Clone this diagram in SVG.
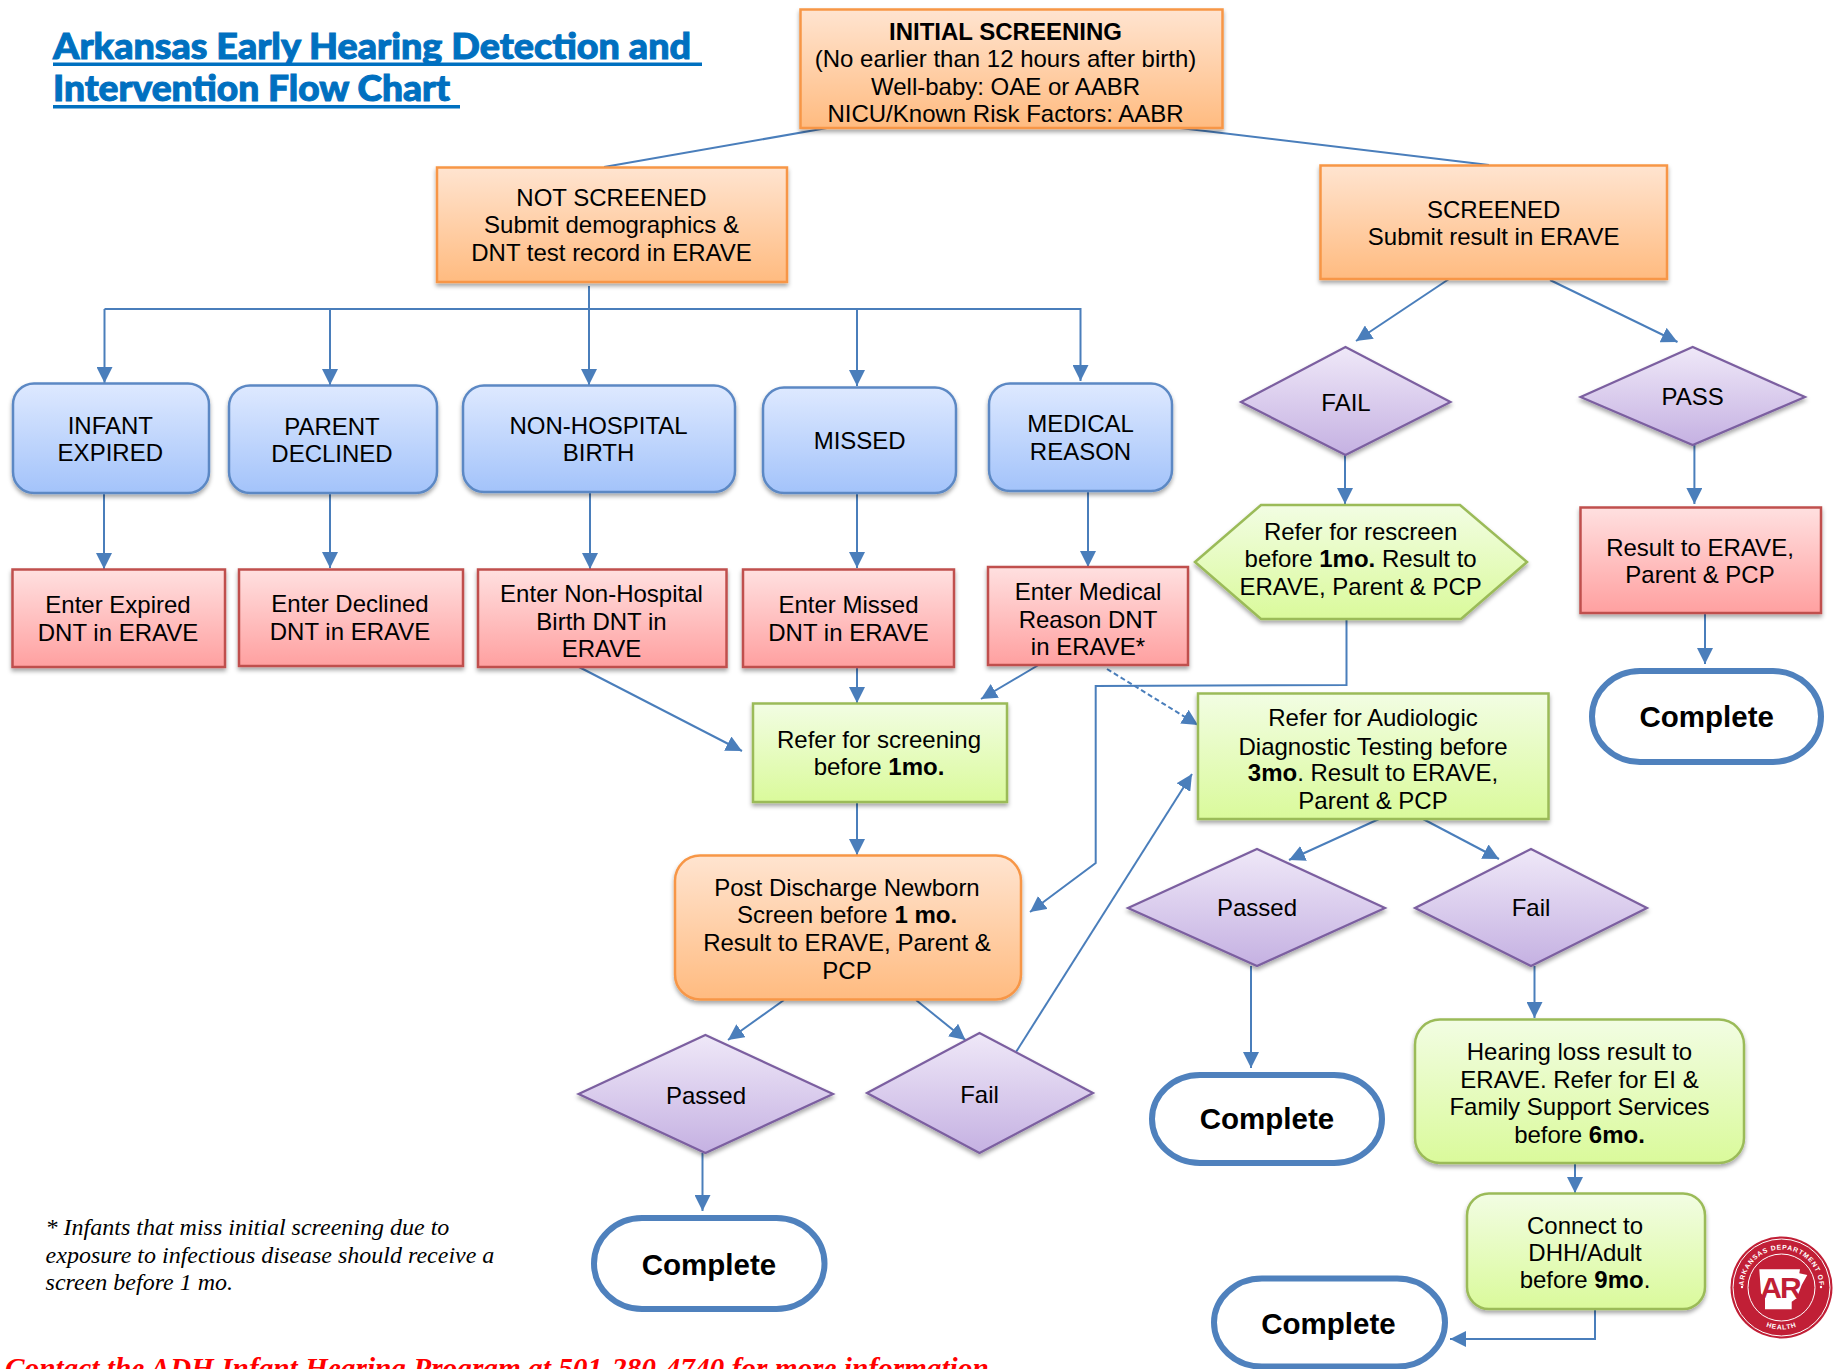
<svg xmlns="http://www.w3.org/2000/svg" xmlns:xlink="http://www.w3.org/1999/xlink" width="1835" height="1369" viewBox="0 0 1835 1369">
<style>
text{font-family:"Liberation Sans",Arial,sans-serif;font-size:24px;fill:#000;text-anchor:middle}
.b{font-weight:700}
.c{font-weight:700;font-size:29.5px}
.ti{font-family:Lato,"Open Sans",sans-serif;font-weight:900;font-size:36px;fill:#0070C0;stroke:#0070C0;stroke-width:1;text-anchor:start}
.fn{font-family:"Liberation Serif",serif;font-style:italic;font-size:24px;text-anchor:start}
.ct{font-family:"Liberation Serif",serif;font-style:italic;font-weight:700;font-size:29.3px;fill:#f00;text-anchor:start}
.cx line,.cx polyline{fill:none;stroke:#4A7EBB;stroke-width:2;marker-end:url(#ah)}
.cx .n{marker-end:none}
.or{fill:url(#gO);stroke:#F79646;stroke-width:2.5;filter:url(#sh)}
.bl{fill:url(#gB);stroke:#5B88C4;stroke-width:2.5;filter:url(#sh)}
.re{fill:url(#gR);stroke:#C0504D;stroke-width:2.5;filter:url(#sh)}
.gr{fill:url(#gG);stroke:#9BBB59;stroke-width:2.5;filter:url(#sh)}
.pu{fill:url(#gP);stroke:#7B5FA0;stroke-width:2.2;filter:url(#sh)}
.co{fill:#fff;stroke:#4F81BD;stroke-width:6}
.lg{font-family:"Liberation Sans",sans-serif;font-weight:700;font-size:6.8px;fill:#fff;letter-spacing:.8px}
</style>
<defs>
<linearGradient id="gO" x1="0" y1="0" x2="0" y2="1"><stop offset="0" stop-color="#FFE4D0"/><stop offset="1" stop-color="#FFBB80"/></linearGradient>
<linearGradient id="gB" x1="0" y1="0" x2="0" y2="1"><stop offset="0" stop-color="#DEE9FF"/><stop offset="1" stop-color="#A3C3FA"/></linearGradient>
<linearGradient id="gR" x1="0" y1="0" x2="0" y2="1"><stop offset="0" stop-color="#FFE0E0"/><stop offset="1" stop-color="#FFA0A0"/></linearGradient>
<linearGradient id="gG" x1="0" y1="0" x2="0" y2="1"><stop offset="0" stop-color="#F2FDE3"/><stop offset="1" stop-color="#DAFA9B"/></linearGradient>
<linearGradient id="gP" x1="0" y1="0" x2="0" y2="1"><stop offset="0" stop-color="#EFE8F8"/><stop offset="1" stop-color="#C5B1E2"/></linearGradient>
<filter id="sh" x="-5%" y="-5%" width="110%" height="115%"><feDropShadow dx="0" dy="3" stdDeviation="2.2" flood-color="#000" flood-opacity=".35"/></filter>
<marker id="ah" markerUnits="userSpaceOnUse" markerWidth="18" markerHeight="16" refX="16" refY="8" orient="auto"><path d="M0 0L16 8L0 16Z" fill="#4A7EBB"/></marker>
<path id="lgTop" d="M1743.5 1287.5A38 38 0 0 1 1819.5 1287.5"/>
<path id="lgBot" d="M1739.5 1287.5A42 42 0 0 0 1823.5 1287.5"/>
</defs>

<g id="title">
<text class="ti" x="53" y="59" textLength="638" lengthAdjust="spacingAndGlyphs">Arkansas Early Hearing Detection and</text>
<text class="ti" x="53" y="101" textLength="397" lengthAdjust="spacingAndGlyphs">Intervention Flow Chart</text>
<rect x="53" y="62.5" width="649" height="3.5" fill="#0070C0"/>
<rect x="53" y="105" width="407" height="3.5" fill="#0070C0"/>
</g>

<g id="connectors" class="cx">
<line class="n" x1="827" y1="128" x2="604" y2="167"/>
<line class="n" x1="1180" y1="128" x2="1489" y2="165"/>
<line class="n" x1="589" y1="286" x2="589" y2="309"/>
<polyline points="104.5,309 1080.5,309 1080.5,381"/>
<line x1="104.5" y1="309" x2="104.5" y2="383"/>
<line x1="330" y1="309" x2="330" y2="385"/>
<line x1="589" y1="309" x2="589" y2="385"/>
<line x1="857" y1="309" x2="857" y2="386"/>
<line x1="104" y1="493" x2="104" y2="569"/>
<line x1="330" y1="493" x2="330" y2="568"/>
<line x1="590" y1="492" x2="590" y2="569"/>
<line x1="857" y1="493" x2="857" y2="568"/>
<line x1="1088" y1="491" x2="1088" y2="567"/>
<line x1="579" y1="667" x2="742" y2="751"/>
<line x1="857" y1="667" x2="857" y2="703"/>
<line x1="1038.5" y1="665" x2="981" y2="699"/>
<line x1="857" y1="802" x2="857" y2="855"/>
<line x1="1107" y1="669" x2="1198" y2="725" stroke-dasharray="5 3"/>
<polyline points="1346.5,619 1346.5,685 1095.7,686 1095.7,863 1030,912"/>
<line x1="1016" y1="1052" x2="1192" y2="774"/>
<line x1="1379" y1="819" x2="1289" y2="860"/>
<line x1="1423" y1="819" x2="1499" y2="859"/>
<line x1="1251" y1="966" x2="1251" y2="1068"/>
<line x1="1534.5" y1="966" x2="1534.5" y2="1018"/>
<line x1="1575" y1="1164" x2="1575" y2="1193"/>
<polyline points="1595,1309 1595,1339 1450,1339"/>
<line x1="1449" y1="279" x2="1356" y2="341"/>
<line x1="1550" y1="280" x2="1677.5" y2="342"/>
<line x1="1345" y1="455" x2="1345" y2="504"/>
<line x1="1694.4" y1="445" x2="1694.4" y2="504"/>
<line x1="1705" y1="614" x2="1705" y2="664"/>
<line x1="784" y1="1000" x2="728" y2="1040"/>
<line x1="916" y1="1000" x2="965.5" y2="1040"/>
<line x1="702.5" y1="1153" x2="702.5" y2="1211"/>
</g>

<g id="initial"><rect class="or" x="800.5" y="9.5" width="422" height="118.5"/>
<text x="1005.5" y="39.5" class="b">INITIAL SCREENING</text><text x="1005.5" y="67">(No earlier than 12 hours after birth)</text><text x="1005.5" y="95">Well-baby: OAE or AABR</text><text x="1005.5" y="122">NICU/Known Risk Factors: AABR</text></g>
<g id="not-screened"><rect class="or" x="437" y="167.5" width="350" height="114.5"/>
<text x="611.5" y="205.7">NOT SCREENED</text><text x="611.5" y="233">Submit demographics &amp;</text><text x="611.5" y="260.7">DNT test record in ERAVE</text></g>
<g id="screened"><rect class="or" x="1320.5" y="165.5" width="346.5" height="113.5"/>
<text x="1493.7" y="217.7">SCREENED</text><text x="1493.7" y="245">Submit result in ERAVE</text></g>

<g id="infant-expired"><rect class="bl" x="13" y="383.5" width="196" height="109.5" rx="21"/><text x="110.3" y="434">INFANT</text><text x="110.3" y="461">EXPIRED</text></g>
<g id="parent-declined"><rect class="bl" x="229" y="385.5" width="208" height="107.5" rx="21"/><text x="332" y="435">PARENT</text><text x="332" y="462">DECLINED</text></g>
<g id="non-hospital"><rect class="bl" x="463" y="385.5" width="272" height="106.5" rx="21"/><text x="598.6" y="434">NON-HOSPITAL</text><text x="598.6" y="461">BIRTH</text></g>
<g id="missed"><rect class="bl" x="763" y="387.5" width="193" height="105.5" rx="21"/><text x="859.7" y="449">MISSED</text></g>
<g id="medical-reason"><rect class="bl" x="989" y="383.5" width="183" height="107.5" rx="21"/><text x="1080.5" y="432">MEDICAL</text><text x="1080.5" y="460">REASON</text></g>

<g id="enter-expired"><rect class="re" x="12.5" y="569.5" width="212.5" height="97.5"/><text x="118" y="613">Enter Expired</text><text x="118" y="641">DNT in ERAVE</text></g>
<g id="enter-declined"><rect class="re" x="239" y="569.5" width="224" height="96.5"/><text x="350" y="612">Enter Declined</text><text x="350" y="640">DNT in ERAVE</text></g>
<g id="enter-non-hospital"><rect class="re" x="478" y="569.5" width="248.5" height="97.5"/><text x="601.5" y="602">Enter Non-Hospital</text><text x="601.5" y="629.5">Birth DNT in</text><text x="601.5" y="657">ERAVE</text></g>
<g id="enter-missed"><rect class="re" x="743" y="569.5" width="211" height="97.5"/><text x="848.5" y="613">Enter Missed</text><text x="848.5" y="641">DNT in ERAVE</text></g>
<g id="enter-medical"><rect class="re" x="988" y="567" width="200" height="98"/><text x="1088" y="600">Enter Medical</text><text x="1088" y="628">Reason DNT</text><text x="1088" y="655">in ERAVE*</text></g>

<g id="refer-screening"><rect class="gr" x="753" y="703.5" width="254" height="98.5"/><text x="879" y="748">Refer for screening</text><text x="879" y="775">before <tspan class="b">1mo.</tspan></text></g>
<g id="post-discharge"><rect class="or" x="675" y="855.5" width="346" height="144" rx="25"/><text x="847" y="896">Post Discharge Newborn</text><text x="847" y="923">Screen before <tspan class="b">1 mo.</tspan></text><text x="847" y="951">Result to ERAVE, Parent &amp;</text><text x="847" y="978.5">PCP</text></g>

<g id="fail-1"><polygon class="pu" points="1241,402 1345.5,347 1450.5,402 1345.5,455"/><text x="1346" y="410.7">FAIL</text></g>
<g id="pass-1"><polygon class="pu" points="1580.6,397 1692.7,347 1805,397 1692.7,445"/><text x="1692.7" y="405">PASS</text></g>
<g id="rescreen"><polygon class="gr" points="1195,562 1261,505 1460,505 1527,562 1461,619 1261,619"/><text x="1360.6" y="540">Refer for rescreen</text><text x="1360.6" y="567">before <tspan class="b">1mo.</tspan> Result to</text><text x="1360.6" y="595">ERAVE, Parent &amp; PCP</text></g>
<g id="result-pass"><rect class="re" x="1580.5" y="507.5" width="240.5" height="105.5"/><text x="1700" y="556">Result to ERAVE,</text><text x="1700" y="583">Parent &amp; PCP</text></g>
<g id="complete-pass"><rect class="co" x="1592" y="671" width="229" height="91" rx="48" ry="45.5"/><text class="c" x="1706.7" y="727">Complete</text></g>
<g id="audiologic"><rect class="gr" x="1198" y="693.5" width="350.5" height="125.5"/><text x="1373" y="726">Refer for Audiologic</text><text x="1373" y="754.5">Diagnostic Testing before</text><text x="1373" y="781"><tspan class="b">3mo</tspan>. Result to ERAVE,</text><text x="1373" y="808.5">Parent &amp; PCP</text></g>
<g id="passed-2"><polygon class="pu" points="1128,908 1257,849 1385,908 1257,966"/><text x="1257" y="915.7">Passed</text></g>
<g id="fail-2"><polygon class="pu" points="1415,908 1531,849 1647,908 1531,966"/><text x="1531" y="915.7">Fail</text></g>
<g id="complete-2"><rect class="co" x="1152" y="1075" width="230" height="88" rx="48" ry="44"/><text class="c" x="1267" y="1129">Complete</text></g>
<g id="hearing-loss"><rect class="gr" x="1415" y="1019.5" width="329" height="143.5" rx="25"/><text x="1579.5" y="1060">Hearing loss result to</text><text x="1579.5" y="1088">ERAVE. Refer for EI &amp;</text><text x="1579.5" y="1115">Family Support Services</text><text x="1579.5" y="1143">before <tspan class="b">6mo.</tspan></text></g>
<g id="connect-dhh"><rect class="gr" x="1467" y="1193.5" width="238" height="115.5" rx="22"/><text x="1585" y="1233.5">Connect to</text><text x="1585" y="1260.5">DHH/Adult</text><text x="1585" y="1288">before <tspan class="b">9mo</tspan>.</text></g>
<g id="complete-3"><rect class="co" x="1214" y="1278.6" width="231" height="88" rx="48" ry="44"/><text class="c" x="1328.5" y="1334">Complete</text></g>
<g id="passed-1"><polygon class="pu" points="578.6,1094 705.4,1035 833,1094 705.4,1153"/><text x="706" y="1103.7">Passed</text></g>
<g id="fail-3"><polygon class="pu" points="867,1093 979.5,1033 1093,1093 979.5,1153"/><text x="979.5" y="1102.7">Fail</text></g>
<g id="complete-1"><rect class="co" x="594" y="1218" width="230.5" height="91" rx="48" ry="45.5"/><text class="c" x="709" y="1275">Complete</text></g>

<g id="footnote">
<text class="fn" x="45.6" y="1235">* Infants that miss initial screening due to</text>
<text class="fn" x="45.6" y="1263">exposure to infectious disease should receive a</text>
<text class="fn" x="45.6" y="1290">screen before 1 mo.</text>
</g>
<g id="contact"><text class="ct" x="5" y="1378">Contact the ADH Infant Hearing Program at 501-280-4740 for more information</text></g>

<g id="logo">
<circle cx="1781.5" cy="1287.5" r="51" fill="#C11F36"/>
<circle cx="1781.5" cy="1287.5" r="48.5" fill="none" stroke="#fff" stroke-width="1"/>
<circle cx="1781.5" cy="1287.5" r="33.5" fill="none" stroke="#fff" stroke-width="1"/>
<circle cx="1742" cy="1287" r="1.2" fill="#fff"/>
<circle cx="1821" cy="1287" r="1.2" fill="#fff"/>
<polygon fill="#fff" points="1759.3,1269.3 1800,1269.3 1799.3,1273.3 1807.3,1275 1801.7,1285 1796.7,1298.3 1791.7,1301.7 1791.7,1309.3 1765,1309.3 1765,1298.3 1761,1293.3"/>
<text x="1780" y="1298" style="font-weight:700;font-size:30px;fill:#C11F36;letter-spacing:-2px">AR</text>
<text class="lg"><textPath xlink:href="#lgTop" href="#lgTop" startOffset="50%">ARKANSAS DEPARTMENT OF</textPath></text>
<text class="lg"><textPath xlink:href="#lgBot" href="#lgBot" startOffset="50%">HEALTH</textPath></text>
</g>
</svg>
